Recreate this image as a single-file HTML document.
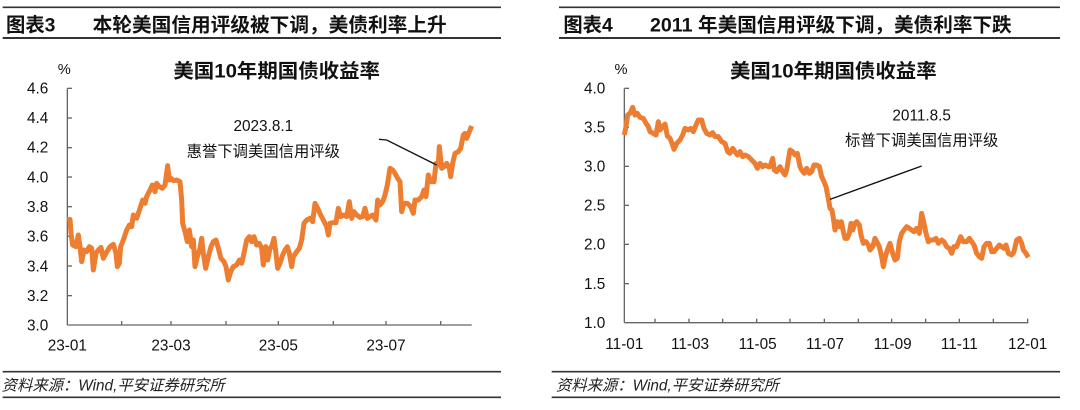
<!DOCTYPE html>
<html><head><meta charset="utf-8"><style>
html,body{margin:0;padding:0;background:#fff;}
svg{display:block;font-family:"Liberation Sans","Noto Sans CJK SC",sans-serif;}
</style></head><body>
<svg width="1080" height="410" viewBox="0 0 3240 1230" xmlns="http://www.w3.org/2000/svg">
<!-- LEFT PANEL -->
<g>
<line x1="8" y1="22" x2="1503" y2="22" stroke="#333" stroke-width="5"/>
<line x1="8" y1="114" x2="1503" y2="114" stroke="#333" stroke-width="6"/>
<text x="18" y="95" font-size="58" font-weight="bold" fill="#111">图表3</text>
<text x="278" y="95" font-size="58" font-weight="bold" fill="#111" textLength="1062" lengthAdjust="spacingAndGlyphs">本轮美国信用评级被下调，美债利率上升</text>
<text x="830" y="232" font-size="58" font-weight="bold" fill="#111" text-anchor="middle" textLength="620" lengthAdjust="spacingAndGlyphs">美国10年期国债收益率</text>
<text x="193" y="222" font-size="44" fill="#111" text-anchor="middle">%</text>
<g font-size="46" fill="#111" text-anchor="end">
<text x="145" y="280">4.6</text><text x="145" y="369">4.4</text><text x="145" y="458">4.2</text><text x="145" y="547">4.0</text><text x="145" y="636">3.8</text><text x="145" y="725">3.6</text><text x="145" y="814">3.4</text><text x="145" y="903">3.2</text><text x="145" y="992">3.0</text>
</g>
<line x1="202" y1="265" x2="202" y2="975" stroke="#666" stroke-width="4"/>
<line x1="202" y1="975" x2="1415" y2="975" stroke="#666" stroke-width="4"/>
<g stroke="#666" stroke-width="4">
<line x1="202" y1="265" x2="216" y2="265"/><line x1="202" y1="354" x2="216" y2="354"/><line x1="202" y1="443" x2="216" y2="443"/><line x1="202" y1="531" x2="216" y2="531"/><line x1="202" y1="620" x2="216" y2="620"/><line x1="202" y1="709" x2="216" y2="709"/><line x1="202" y1="798" x2="216" y2="798"/><line x1="202" y1="887" x2="216" y2="887"/>
<line x1="365" y1="975" x2="365" y2="963"/><line x1="513" y1="975" x2="513" y2="963"/><line x1="678" y1="975" x2="678" y2="963"/><line x1="835" y1="975" x2="835" y2="963"/><line x1="1000" y1="975" x2="1000" y2="963"/><line x1="1158" y1="975" x2="1158" y2="963"/><line x1="1322" y1="975" x2="1322" y2="963"/>
</g>
<g font-size="46" fill="#111" text-anchor="middle">
<text x="202" y="1052">23-01</text><text x="513" y="1052">23-03</text><text x="835" y="1052">23-05</text><text x="1158" y="1052">23-07</text>
</g>
<polyline fill="none" stroke="#ED7D31" stroke-width="15" stroke-linejoin="round" points="202,660 210,658 213,700 218,735 228,740 235,705 240,740 245,785 252,750 260,755 268,740 275,745 280,810 288,760 295,750 303,742 310,775 318,760 330,740 340,733 348,760 352,800 358,790 362,740 370,720 380,690 388,675 395,680 400,645 410,655 420,625 428,600 435,610 440,590 450,570 457,555 465,575 470,550 478,560 487,565 495,555 503,497 508,540 513,535 520,542 530,540 540,545 545,600 548,670 555,695 562,725 568,690 575,740 580,720 585,800 592,770 600,745 605,715 610,760 617,805 625,770 633,740 640,725 648,720 655,745 663,775 672,785 678,800 685,840 692,815 700,800 710,795 718,780 725,790 732,760 740,720 748,710 755,725 762,710 770,735 778,730 785,745 790,795 797,740 803,780 810,745 815,740 822,715 828,760 833,805 840,790 848,765 855,750 862,740 868,760 875,800 880,770 890,755 898,745 905,720 912,670 920,660 930,655 938,665 945,610 953,625 962,645 970,660 980,680 985,705 990,670 998,668 1008,668 1015,625 1022,650 1030,645 1040,650 1048,605 1055,655 1062,635 1070,645 1080,652 1088,650 1095,625 1102,655 1110,650 1118,645 1128,660 1133,600 1140,615 1148,605 1155,585 1162,555 1170,505 1178,510 1185,520 1193,535 1200,545 1205,635 1212,610 1222,610 1232,620 1240,640 1245,600 1255,600 1265,590 1272,570 1278,590 1285,525 1292,545 1302,545 1308,490 1315,495 1318,440 1325,505 1332,500 1340,490 1348,505 1352,530 1358,490 1365,460 1375,455 1382,445 1390,405 1395,400 1400,415 1408,395 1415,378"/>
<text x="790" y="393" font-size="46" fill="#111" text-anchor="middle">2023.8.1</text>
<text x="790" y="470" font-size="46" fill="#111" text-anchor="middle">惠誉下调美国信用评级</text>
<polyline fill="none" stroke="#111" stroke-width="4" points="1137,418 1160,420 1310,495"/>
<line x1="8" y1="1115" x2="1503" y2="1115" stroke="#333" stroke-width="5"/>
<line x1="8" y1="1192" x2="1503" y2="1192" stroke="#333" stroke-width="5"/>
<text x="5" y="1172" font-size="46" font-style="italic" fill="#222">资料来源：Wind,平安证券研究所</text>
</g>
<!-- RIGHT PANEL -->
<g transform="translate(1620,0)">
<line x1="57" y1="22" x2="1560" y2="22" stroke="#333" stroke-width="5"/>
<line x1="57" y1="114" x2="1560" y2="114" stroke="#333" stroke-width="6"/>
<text x="70" y="95" font-size="58" font-weight="bold" fill="#111">图表4</text>
<text x="330" y="95" font-size="58" font-weight="bold" fill="#111" textLength="1085" lengthAdjust="spacingAndGlyphs">2011 年美国信用评级下调，美债利率下跌</text>
<text x="880" y="232" font-size="58" font-weight="bold" fill="#111" text-anchor="middle" textLength="620" lengthAdjust="spacingAndGlyphs">美国10年期国债收益率</text>
<text x="243" y="222" font-size="44" fill="#111" text-anchor="middle">%</text>
<g font-size="46" fill="#111" text-anchor="end">
<text x="196" y="281">4.0</text><text x="196" y="398">3.5</text><text x="196" y="515">3.0</text><text x="196" y="632">2.5</text><text x="196" y="749">2.0</text><text x="196" y="867">1.5</text><text x="196" y="984">1.0</text>
</g>
<line x1="253" y1="265" x2="253" y2="968" stroke="#666" stroke-width="4"/>
<line x1="253" y1="968" x2="1465" y2="968" stroke="#666" stroke-width="4"/>
<g stroke="#666" stroke-width="4">
<line x1="253" y1="265" x2="267" y2="265"/><line x1="253" y1="382" x2="267" y2="382"/><line x1="253" y1="499" x2="267" y2="499"/><line x1="253" y1="616" x2="267" y2="616"/><line x1="253" y1="733" x2="267" y2="733"/><line x1="253" y1="851" x2="267" y2="851"/>
<line x1="345" y1="968" x2="345" y2="956"/><line x1="447" y1="968" x2="447" y2="956"/><line x1="548" y1="968" x2="548" y2="956"/><line x1="650" y1="968" x2="650" y2="956"/><line x1="750" y1="968" x2="750" y2="956"/><line x1="853" y1="968" x2="853" y2="956"/><line x1="955" y1="968" x2="955" y2="956"/><line x1="1055" y1="968" x2="1055" y2="956"/><line x1="1157" y1="968" x2="1157" y2="956"/><line x1="1258" y1="968" x2="1258" y2="956"/><line x1="1360" y1="968" x2="1360" y2="956"/><line x1="1463" y1="968" x2="1463" y2="956"/>
</g>
<g font-size="46" fill="#111" text-anchor="middle">
<text x="253" y="1047">11-01</text><text x="450" y="1047">11-03</text><text x="653" y="1047">11-05</text><text x="855" y="1047">11-07</text><text x="1058" y="1047">11-09</text><text x="1258" y="1047">11-11</text><text x="1463" y="1047">12-01</text>
</g>
<polyline fill="none" stroke="#ED7D31" stroke-width="15" stroke-linejoin="round" points="253,405 258,380 263,345 270,340 278,322 285,345 292,340 300,352 310,355 318,370 325,380 330,395 340,400 348,405 355,365 360,390 368,380 375,372 382,408 390,415 396,430 402,448 410,430 420,420 428,405 435,385 445,390 452,385 460,395 468,375 475,360 485,360 492,385 500,400 510,405 518,398 525,410 535,410 545,425 555,430 563,455 570,460 578,445 585,455 592,465 600,455 608,470 615,465 625,470 635,480 645,490 652,505 660,490 668,500 675,495 685,500 690,500 698,475 703,510 710,515 720,500 728,515 735,525 740,510 745,480 750,450 758,455 765,465 772,460 780,500 785,510 793,520 800,505 808,520 815,515 822,495 830,495 838,500 845,530 852,545 858,560 865,595 870,625 876,630 880,655 885,690 892,665 898,680 904,665 910,695 915,715 922,715 928,700 933,670 938,690 945,670 950,665 958,675 963,705 970,730 978,725 985,735 990,750 998,740 1005,715 1010,725 1018,740 1025,770 1030,800 1035,775 1042,750 1050,730 1058,760 1065,780 1072,775 1078,725 1085,700 1092,690 1100,680 1108,685 1115,690 1122,695 1130,685 1138,700 1145,640 1152,670 1158,700 1165,725 1172,720 1180,720 1188,715 1195,730 1205,720 1212,725 1220,740 1228,745 1235,760 1242,740 1250,740 1258,720 1262,710 1270,725 1280,725 1288,715 1295,725 1302,735 1310,760 1318,770 1325,775 1332,740 1340,730 1348,730 1355,755 1362,755 1370,745 1378,735 1385,740 1392,745 1398,735 1405,760 1415,765 1422,755 1430,720 1438,715 1445,730 1450,750 1458,760 1465,772"/>
<text x="1145" y="362" font-size="46" fill="#111" text-anchor="middle">2011.8.5</text>
<text x="1145" y="437" font-size="46" fill="#111" text-anchor="middle">标普下调美国信用评级</text>
<line x1="1145" y1="498" x2="870" y2="598" stroke="#111" stroke-width="4"/>
<line x1="35" y1="1115" x2="1560" y2="1115" stroke="#333" stroke-width="5"/>
<line x1="35" y1="1192" x2="1560" y2="1192" stroke="#333" stroke-width="5"/>
<text x="48" y="1172" font-size="46" font-style="italic" fill="#222">资料来源：Wind,平安证券研究所</text>
</g>
</svg>
</body></html>
